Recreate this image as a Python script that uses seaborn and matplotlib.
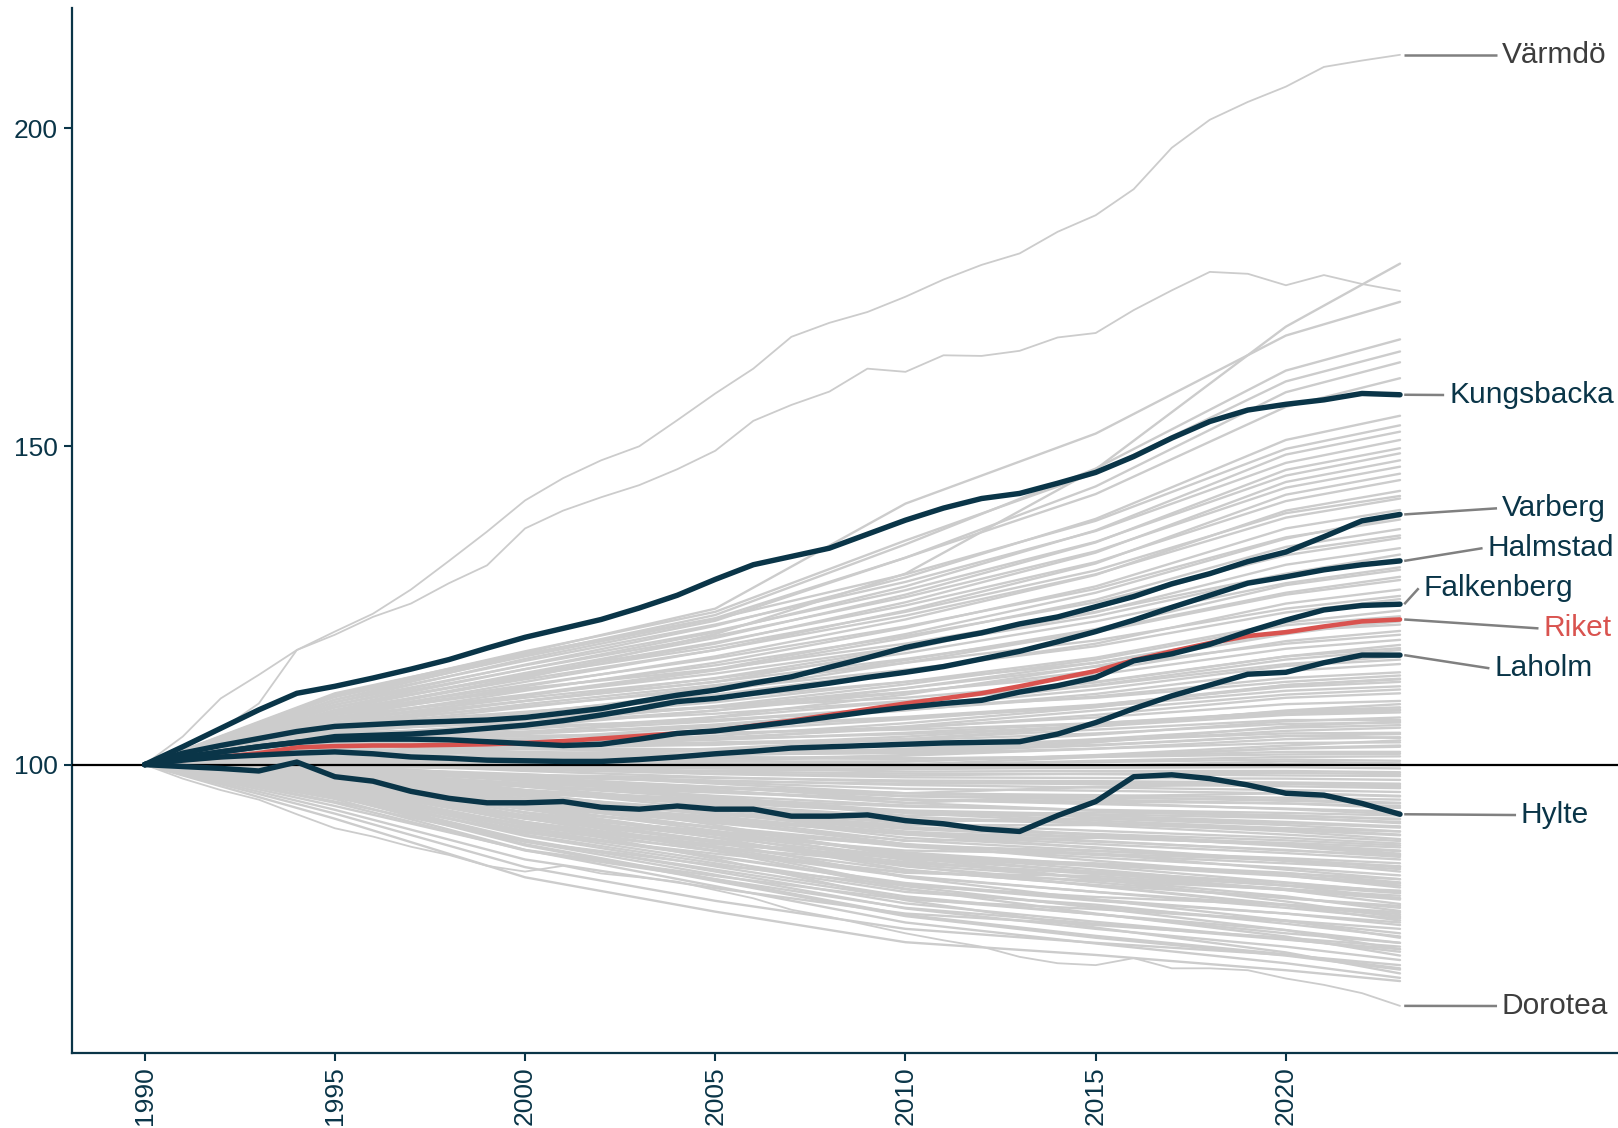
import matplotlib
matplotlib.use("Agg")
import matplotlib.pyplot as plt
import seaborn as sns
import pandas as pd

# ---------------- data ----------------
years = list(range(1990, 2024))

kungsbacka = [100, 102.8, 105.7, 108.6, 111.2, 112.3, 113.6, 115.0, 116.5, 118.3, 120.0, 121.4, 122.8,
              124.6, 126.6, 129.1, 131.4, 132.7, 134.0, 136.2, 138.4, 140.3, 141.8, 142.6, 144.2, 145.9,
              148.4, 151.3, 153.9, 155.7, 156.6, 157.3, 158.3, 158.1]
varberg = [100, 101.8, 103.0, 104.1, 105.2, 106.0, 106.3, 106.6, 106.8, 107.0, 107.4, 108.1, 108.8,
           109.9, 110.9, 111.7, 112.8, 113.8, 115.3, 116.8, 118.4, 119.6, 120.7, 122.1, 123.2, 124.8,
           126.4, 128.4, 130.0, 131.9, 133.4, 135.8, 138.3, 139.3]
halmstad = [100, 101.2, 102.0, 102.8, 103.5, 104.4, 104.6, 104.8, 105.2, 105.7, 106.2, 106.9, 107.8,
            108.8, 109.9, 110.4, 111.2, 112.0, 112.8, 113.7, 114.5, 115.4, 116.6, 117.8, 119.3, 120.9,
            122.7, 124.7, 126.6, 128.5, 129.5, 130.6, 131.4, 132.0]
falkenberg = [100, 101.0, 102.0, 102.8, 103.5, 103.9, 104.0, 104.0, 103.9, 103.6, 103.3, 103.0, 103.2,
              104.0, 104.9, 105.3, 106.0, 106.7, 107.5, 108.3, 109.0, 109.6, 110.1, 111.4, 112.4, 113.7,
              116.3, 117.4, 118.9, 120.9, 122.7, 124.3, 125.0, 125.2]
laholm = [100, 100.7, 101.2, 101.5, 101.8, 102.0, 101.7, 101.2, 101.0, 100.7, 100.6, 100.5, 100.5,
          100.8, 101.2, 101.7, 102.1, 102.6, 102.8, 103.0, 103.2, 103.4, 103.5, 103.6, 104.8, 106.6,
          108.8, 110.8, 112.5, 114.2, 114.5, 116.0, 117.2, 117.2]
hylte = [100, 99.7, 99.4, 99.0, 100.4, 98.1, 97.4, 95.8, 94.7, 94.0, 94.0, 94.2, 93.3, 93.0, 93.5,
         93.0, 93.0, 91.9, 91.9, 92.1, 91.2, 90.7, 89.9, 89.5, 92.0, 94.2, 98.1, 98.4, 97.8, 96.8,
         95.5, 95.2, 93.9, 92.2]
riket = [100, 100.7, 101.2, 101.8, 102.7, 102.9, 103.0, 103.0, 103.1, 103.2, 103.4, 103.7, 104.1,
         104.5, 104.9, 105.3, 106.1, 106.9, 107.8, 108.7, 109.6, 110.4, 111.2, 112.3, 113.5, 114.7,
         116.4, 117.8, 119.1, 120.2, 120.8, 121.7, 122.5, 122.8]
varmdo = [100, 104.4, 110.4, 114.1, 118.0, 120.9, 123.7, 127.5, 132.0, 136.6, 141.5, 145.0, 147.8,
          150.0, 154.1, 158.3, 162.2, 167.2, 169.4, 171.1, 173.5, 176.2, 178.5, 180.3, 183.7, 186.3,
          190.4, 196.9, 201.3, 204.1, 206.5, 209.6, 210.6, 211.5]
second_top = [100, 102.5, 105.5, 109.6, 118.0, 120.4, 123.2, 125.3, 128.5, 131.3, 137.1, 139.9, 142.0,
              143.9, 146.4, 149.3, 154.0, 156.5, 158.6, 162.2, 161.7, 164.3, 164.2, 165.0, 167.1, 167.8,
              171.4, 174.5, 177.4, 177.1, 175.3, 176.9, 175.5, 174.4]
dorotea = [100, 97.8, 96.0, 94.5, 92.2, 90.0, 88.7, 87.1, 85.8, 84.1, 83.2, 84.1, 82.9, 82.3, 81.6,
           80.3, 79.0, 77.2, 76.1, 74.8, 73.5, 72.4, 71.4, 69.8, 68.8, 68.5, 69.6, 68.0, 68.0, 67.7,
           66.4, 65.4, 64.1, 62.1]

# other municipalities, read at these years
gray_years = [1990, 1995, 2000, 2005, 2010, 2015, 2020, 2023]
gray_series = [
    [100, 91.5, 82.3, 76.9, 72.1, 70.1, 67.7, 66.0],
    [100, 94.6, 86.6, 80.9, 75.2, 71.9, 68.8, 66.5],
    [100, 97.4, 90.8, 85.2, 78.7, 74.4, 70.5, 67.2],
    [100, 95.0, 87.3, 81.7, 76.2, 72.8, 70.0, 67.8],
    [100, 92.3, 83.9, 78.6, 74.2, 72.0, 70.1, 68.5],
    [100, 95.2, 87.9, 82.7, 77.4, 74.2, 71.4, 69.3],
    [100, 97.6, 91.6, 86.5, 80.5, 76.6, 73.0, 70.0],
    [100, 95.3, 88.2, 83.2, 78.2, 75.3, 72.6, 70.6],
    [100, 92.9, 85.1, 80.6, 76.6, 74.8, 72.8, 71.4],
    [100, 95.5, 88.8, 84.0, 79.3, 76.5, 74.0, 72.0],
    [100, 97.8, 92.4, 87.8, 82.3, 78.8, 75.5, 72.8],
    [100, 95.8, 89.4, 84.9, 80.4, 77.7, 75.4, 73.5],
    [100, 93.5, 86.6, 82.5, 78.8, 77.3, 75.5, 74.2],
    [100, 96.0, 89.9, 85.6, 81.4, 78.8, 76.6, 74.8],
    [100, 98.0, 93.1, 89.0, 84.1, 80.9, 77.9, 75.5],
    [100, 96.2, 90.5, 86.4, 82.4, 80.0, 77.9, 76.2],
    [100, 94.2, 87.9, 84.2, 81.0, 79.2, 78.0, 76.8],
    [100, 96.4, 91.0, 87.2, 83.4, 81.1, 79.1, 77.5],
    [100, 98.2, 93.9, 90.1, 85.8, 83.0, 80.3, 78.1],
    [100, 96.6, 91.5, 87.9, 84.3, 82.2, 80.3, 78.8],
    [100, 94.8, 89.3, 86.0, 83.1, 81.8, 80.4, 79.4],
    [100, 96.8, 92.0, 88.6, 85.2, 83.2, 81.4, 80.0],
    [100, 98.5, 94.6, 91.3, 87.5, 84.9, 82.6, 80.7],
    [100, 97.0, 92.5, 89.3, 86.2, 84.3, 82.6, 81.3],
    [100, 95.5, 90.6, 87.8, 85.2, 84.2, 82.9, 82.0],
    [100, 97.2, 93.0, 90.1, 87.1, 85.4, 83.8, 82.6],
    [100, 98.6, 95.3, 92.4, 89.1, 86.9, 84.9, 83.2],
    [100, 97.4, 93.6, 90.8, 88.1, 86.5, 84.9, 83.9],
    [100, 96.1, 91.9, 89.5, 87.3, 86.4, 85.3, 84.5],
    [100, 97.6, 94.0, 91.5, 89.0, 87.5, 86.1, 85.1],
    [100, 98.9, 96.0, 93.6, 90.8, 88.9, 87.2, 85.8],
    [100, 97.8, 94.6, 92.2, 89.9, 88.6, 87.4, 86.4],
    [100, 96.8, 93.2, 91.2, 89.3, 88.6, 87.7, 87.0],
    [100, 98.0, 95.0, 92.9, 90.8, 89.6, 88.5, 87.6],
    [100, 99.1, 96.7, 94.7, 92.4, 90.9, 89.5, 88.3],
    [100, 98.2, 95.6, 93.7, 91.8, 90.7, 89.7, 88.9],
    [100, 97.4, 94.5, 92.9, 91.4, 90.8, 90.0, 89.5],
    [100, 98.4, 96.0, 94.4, 92.7, 91.7, 90.8, 90.1],
    [100, 99.3, 97.4, 95.9, 94.0, 92.8, 91.7, 90.8],
    [100, 98.6, 96.6, 95.1, 93.6, 92.8, 92.0, 91.4],
    [100, 98.0, 95.8, 94.6, 93.4, 92.9, 92.4, 92.0],
    [100, 98.8, 97.0, 95.8, 94.5, 93.8, 93.1, 92.6],
    [100, 99.5, 97.9, 96.4, 95.0, 94.5, 93.9, 93.2],
    [100, 99.0, 97.6, 96.5, 95.5, 94.9, 94.3, 93.9],
    [100, 98.6, 97.1, 96.3, 95.5, 95.2, 94.8, 94.5],
    [100, 99.6, 98.3, 97.2, 96.2, 95.9, 95.5, 95.1],
    [100, 99.3, 98.3, 97.5, 96.8, 96.4, 96.0, 95.7],
    [100, 100.3, 99.0, 98.0, 97.3, 96.9, 96.6, 96.3],
    [100, 99.2, 98.4, 97.9, 97.5, 97.4, 97.2, 97.0],
    [100, 100.8, 99.4, 98.5, 98.0, 97.9, 97.8, 97.6],
    [100, 99.7, 99.3, 98.9, 98.6, 98.5, 98.3, 98.2],
    [100, 101.0, 100.1, 99.4, 98.9, 99.0, 99.0, 98.8],
    [100, 100.6, 99.9, 99.6, 99.3, 99.5, 99.6, 99.4],
    [100, 101.4, 100.6, 100.0, 99.6, 99.7, 100.1, 99.9],
    [100, 98.1, 93.5, 89.6, 85.0, 82.0, 79.3, 77.0],
    [100, 95.0, 90.2, 87.5, 85.3, 84.2, 82.5, 81.0],
    [100, 97.7, 94.2, 91.8, 89.2, 87.9, 86.6, 85.5],
    [100, 99.2, 96.8, 94.9, 92.7, 91.2, 90.0, 89.0],
    [100, 98.4, 96.6, 95.6, 94.5, 94.2, 93.9, 93.5],
    [100, 97.7, 91.9, 86.9, 80.9, 77.5, 74.0, 71.0],
    [100, 95.1, 87.5, 82.0, 76.4, 73.1, 70.2, 68.0],
    [100, 99.0, 98.0, 97.4, 97.0, 97.1, 97.0, 96.8],
    [100, 100.2, 99.2, 98.6, 98.3, 98.6, 98.7, 98.5],
    [100, 99.2, 97.6, 96.3, 95.1, 94.8, 94.5, 94.0],
    [100, 97.8, 95.6, 94.2, 92.8, 92.2, 91.6, 91.0],
    [100, 97.5, 94.5, 92.4, 90.2, 89.1, 88.1, 87.3],
    [100, 97.0, 93.0, 90.2, 87.4, 85.8, 84.5, 83.6],
    [100, 96.5, 91.6, 88.1, 84.7, 82.8, 81.0, 79.8],
    [100, 95.6, 89.6, 85.5, 81.2, 78.6, 76.6, 75.2],
    [100, 96.5, 90.0, 86.5, 83.0, 82.5, 80.5, 79.0],
    [100, 99.0, 95.0, 90.5, 85.5, 82.0, 78.5, 76.0],
    [100, 97.0, 93.5, 91.5, 88.0, 88.5, 87.5, 86.0],
    [100, 98.5, 96.5, 94.0, 91.0, 91.5, 90.5, 89.5],
    [100, 95.5, 89.0, 84.5, 80.0, 78.0, 75.0, 73.0],
    [100, 98.0, 93.0, 88.5, 83.5, 81.0, 78.0, 76.5],
    [100, 99.5, 97.5, 95.0, 92.0, 92.5, 92.0, 91.5],
    [100, 97.0, 91.0, 87.0, 82.5, 80.0, 77.5, 75.8],
    [100, 96.0, 91.5, 89.0, 86.5, 86.0, 85.0, 84.0],
    [100, 98.8, 95.5, 92.0, 88.5, 87.0, 85.0, 84.0],
    [100, 99.0, 97.0, 96.0, 94.0, 95.0, 95.5, 95.0],
    [100, 97.5, 94.0, 91.0, 87.5, 86.0, 83.5, 82.0],
    [100, 94.0, 86.5, 82.0, 77.5, 75.0, 72.5, 71.0],
    [100, 98.0, 94.5, 92.5, 90.5, 90.5, 89.0, 88.0],
    [100, 99.5, 98.5, 97.0, 95.5, 96.5, 97.0, 96.5],
    [100, 96.5, 92.0, 89.5, 86.0, 84.0, 81.5, 80.0],
    [100, 98.5, 94.0, 90.0, 86.0, 83.5, 81.0, 79.0],
    [100, 97.0, 92.0, 88.0, 84.0, 81.5, 79.0, 77.8],
    [100, 99.5, 96.0, 93.0, 90.0, 89.0, 87.5, 86.5],
    [100, 98.0, 95.5, 94.0, 92.5, 92.0, 91.0, 90.3],
    [100, 95.0, 88.0, 83.5, 79.0, 76.5, 73.5, 72.0],
    [100, 97.5, 92.5, 89.0, 85.5, 84.5, 83.0, 81.5],
    [100, 100.0, 98.0, 96.5, 94.5, 94.0, 93.0, 92.2],
    [100, 96.0, 90.5, 87.0, 84.5, 83.0, 81.0, 80.2],
    [100, 98.5, 95.0, 92.5, 89.5, 88.0, 86.5, 85.8],
    [100, 102.0, 100.8, 100.2, 100.1, 100.4, 100.8, 100.6],
    [100, 101.5, 100.4, 99.8, 99.9, 100.6, 101.2, 101.3],
    [100, 102.6, 101.5, 101.0, 100.9, 101.3, 102.0, 102.0],
    [100, 101.1, 100.2, 100.0, 100.5, 101.4, 102.5, 102.8],
    [100, 103.0, 102.0, 101.6, 101.8, 102.5, 103.4, 103.5],
    [100, 101.8, 101.0, 100.9, 101.4, 102.5, 104.0, 104.3],
    [100, 103.2, 102.6, 102.4, 102.9, 103.8, 104.9, 105.0],
    [100, 102.3, 101.5, 101.5, 102.3, 103.6, 105.3, 105.8],
    [100, 103.6, 103.3, 103.2, 103.8, 104.9, 106.4, 106.6],
    [100, 102.0, 101.8, 102.1, 103.1, 104.7, 106.8, 107.4],
    [100, 104.0, 103.8, 104.0, 104.8, 106.0, 107.8, 108.2],
    [100, 102.8, 102.7, 103.1, 104.4, 106.2, 108.4, 109.0],
    [100, 104.3, 104.4, 104.9, 105.9, 107.4, 109.5, 110.0],
    [100, 103.1, 103.4, 104.2, 105.7, 107.8, 110.5, 111.2],
    [100, 104.7, 105.1, 105.9, 107.3, 109.1, 111.6, 112.3],
    [100, 103.5, 104.1, 105.3, 107.1, 109.3, 112.5, 113.4],
    [100, 105.0, 105.8, 107.0, 108.6, 110.7, 113.6, 114.5],
    [100, 103.8, 104.8, 106.3, 108.5, 111.1, 114.7, 115.8],
    [100, 105.4, 106.6, 108.0, 110.0, 112.4, 115.8, 117.0],
    [100, 104.2, 105.6, 107.4, 109.9, 112.9, 117.0, 118.3],
    [100, 105.8, 107.4, 109.1, 111.4, 114.1, 118.2, 119.6],
    [100, 104.6, 106.4, 108.5, 111.3, 114.7, 119.4, 121.0],
    [100, 106.2, 108.3, 110.4, 113.0, 116.0, 120.8, 122.5],
    [100, 105.0, 107.3, 109.8, 113.0, 116.8, 122.3, 124.2],
    [100, 106.5, 109.2, 111.8, 114.9, 118.6, 123.9, 126.0],
    [100, 105.4, 108.2, 111.0, 114.7, 119.0, 125.3, 127.5],
    [100, 107.0, 110.0, 113.0, 116.6, 120.8, 126.7, 129.0],
    [100, 105.8, 109.0, 112.2, 116.4, 121.3, 128.2, 130.6],
    [100, 107.3, 110.9, 114.3, 118.5, 123.3, 129.8, 132.3],
    [100, 106.2, 110.0, 113.6, 118.3, 123.9, 131.4, 134.0],
    [100, 107.8, 111.8, 115.6, 120.2, 125.5, 132.9, 135.6],
    [100, 106.6, 110.8, 114.8, 119.9, 125.9, 134.2, 137.0],
    [100, 108.1, 112.5, 116.7, 121.7, 127.6, 135.7, 138.5],
    [100, 107.0, 111.6, 116.0, 121.5, 128.0, 137.1, 140.0],
    [100, 108.5, 113.4, 118.0, 123.4, 129.9, 138.8, 141.8],
    [100, 107.4, 112.3, 117.0, 122.8, 129.8, 139.9, 143.0],
    [100, 109.0, 114.2, 119.2, 125.0, 131.8, 141.4, 144.7],
    [100, 107.8, 113.0, 118.0, 124.2, 131.6, 142.4, 145.7],
    [100, 109.4, 115.0, 120.2, 126.3, 133.5, 143.5, 146.8],
    [100, 108.2, 113.8, 119.0, 125.5, 133.3, 144.4, 147.8],
    [100, 109.8, 115.6, 121.0, 127.4, 135.0, 145.4, 148.9],
    [100, 108.6, 114.4, 119.9, 126.7, 134.9, 146.3, 149.7],
    [100, 110.2, 116.3, 122.0, 128.7, 136.7, 147.4, 151.0],
    [100, 109.0, 115.0, 120.8, 128.0, 136.8, 148.7, 152.3],
    [100, 110.6, 117.0, 122.9, 129.9, 138.3, 149.6, 153.3],
    [100, 109.4, 115.7, 121.8, 129.4, 138.6, 151.0, 154.8],
    [100, 110.8, 117.4, 123.0, 132.5, 142.5, 156.2, 160.7],
    [100, 109.8, 116.6, 122.6, 132.5, 143.7, 158.5, 163.2],
    [100, 111.0, 117.8, 124.0, 135.2, 145.8, 160.2, 164.9],
    [100, 110.2, 117.2, 123.5, 134.6, 146.5, 161.9, 166.8],
    [100, 111.2, 117.6, 124.5, 141.0, 152.0, 167.4, 172.7],
    [100, 108.0, 113.6, 120.5, 130.0, 146.4, 168.8, 178.7],
    [100, 100.8, 99.5, 99.0, 99.3, 99.8, 100.5, 100.2],
    [100, 102.5, 101.8, 101.2, 101.0, 101.2, 101.6, 101.7],
    [100, 100.5, 99.6, 99.4, 100.0, 101.2, 102.6, 103.0],
    [100, 102.9, 102.4, 102.1, 102.3, 103.1, 104.5, 104.8],
    [100, 101.6, 101.3, 101.5, 102.5, 104.0, 105.8, 106.2],
    [100, 103.7, 103.5, 103.9, 105.0, 106.5, 108.3, 108.7],
    [100, 104.5, 105.0, 106.0, 107.5, 109.4, 112.2, 113.0],
    [100, 104.0, 105.2, 106.8, 109.0, 111.8, 115.5, 116.5],
    [100, 105.2, 107.0, 109.0, 112.0, 115.4, 119.0, 120.4],
    [100, 104.4, 106.5, 109.2, 112.6, 116.5, 121.9, 123.3],
    [100, 101.5, 101.0, 101.5, 102.0, 103.0, 104.5, 104.2],
    [100, 103.0, 103.0, 103.5, 104.0, 105.5, 107.0, 107.0],
    [100, 102.0, 102.5, 104.0, 106.0, 108.5, 111.0, 111.8],
    [100, 104.5, 106.0, 107.0, 109.0, 110.5, 113.0, 114.0],
    [100, 103.0, 104.0, 106.0, 109.0, 112.5, 116.5, 118.0],
    [100, 105.5, 107.5, 109.0, 110.5, 113.0, 117.0, 118.8],
    [100, 104.0, 106.0, 108.5, 112.0, 116.0, 121.0, 122.0],
    [100, 106.0, 109.5, 112.5, 116.0, 119.5, 124.5, 126.5],
    [100, 103.5, 105.0, 107.5, 111.0, 115.5, 120.5, 122.8],
    [100, 107.0, 110.5, 113.5, 117.5, 122.5, 128.5, 131.0],
    [100, 105.0, 108.0, 111.5, 116.0, 121.0, 127.0, 129.5],
    [100, 108.0, 112.0, 115.0, 119.0, 124.0, 130.0, 133.0],
    [100, 102.5, 103.5, 104.5, 106.5, 109.0, 112.5, 113.5],
    [100, 101.0, 101.5, 102.5, 104.0, 106.0, 108.5, 109.5],
    [100, 104.0, 104.5, 105.0, 105.5, 106.5, 108.0, 108.5],
    [100, 102.0, 101.0, 100.5, 100.5, 101.5, 103.0, 103.8],
    [100, 100.5, 100.0, 100.5, 101.5, 103.5, 106.0, 106.8],
    [100, 106.5, 110.0, 113.0, 118.0, 124.5, 133.5, 136.0],
    [100, 107.5, 111.0, 115.0, 120.5, 127.0, 135.5, 139.0],
    [100, 109.0, 114.0, 118.5, 124.0, 130.5, 139.5, 142.2],
]

highlight_names = ["Kungsbacka", "Varberg", "Halmstad", "Falkenberg", "Laholm", "Hylte"]
highlight_values = [kungsbacka, varberg, halmstad, falkenberg, laholm, hylte]
label_names = ["Värmdö", "Kungsbacka", "Varberg", "Halmstad", "Falkenberg", "Riket", "Laholm", "Hylte", "Dorotea"]
label_end_values = [varmdo[-1], kungsbacka[-1], varberg[-1], halmstad[-1], falkenberg[-1], riket[-1],
                    laholm[-1], hylte[-1], dorotea[-1]]

# ---------------- layout / style ----------------
DARK = "#0a3548"
RED = "#d9534f"
GRAY = "#cccccc"
SEG = "#808080"
TXT_GRAY = "#3d3d3d"
label_colors = [TXT_GRAY, DARK, DARK, DARK, DARK, RED, DARK, DARK, TXT_GRAY]
# text anchor (x in years, y in index units)
label_text_x = [2025.68, 2024.29, 2025.68, 2025.30, 2023.62, 2026.77, 2025.48, 2026.18, 2025.68]
label_text_y = [211.5, 158.06, 140.26, 134.0, 127.7, 121.4, 115.13, 92.08, 62.08]
seg_start_x = 2023.11
seg_gap = 0.13

sns.set_theme(style="white")
plt.rcParams['font.family'] = ['Liberation Sans', 'DejaVu Sans']

fig = plt.figure(figsize=(16.18, 11.28), dpi=100)
ax = fig.add_axes([0.0445, 0.0669, 0.9555, 0.9257])

# gray background lines (bulk)
rows = []
for i, s in enumerate(gray_series):
    for y, v in zip(gray_years, s):
        rows.append({"unit": f"g{i}", "year": y, "value": v})
gdf = pd.DataFrame(rows)
sns.lineplot(data=gdf, x="year", y="value", units="unit", estimator=None, sort=False,
             color=GRAY, lw=1.7, ax=ax, legend=False)

# gray outliers read yearly
orows = []
for name, s in [("Värmdö", varmdo), ("second", second_top), ("Dorotea", dorotea)]:
    for y, v in zip(years, s):
        orows.append({"unit": name, "year": y, "value": v})
odf = pd.DataFrame(orows)
sns.lineplot(data=odf, x="year", y="value", units="unit", estimator=None, sort=False,
             color=GRAY, lw=1.3, ax=ax, legend=False)

ax.axhline(100, color="black", lw=1.6, zorder=3)

rdf = pd.DataFrame({"year": years, "value": riket})
sns.lineplot(data=rdf, x="year", y="value", color=RED, lw=3.3, ax=ax, legend=False, zorder=4)

hrows = []
for name, s in zip(highlight_names, highlight_values):
    for y, v in zip(years, s):
        hrows.append({"unit": name, "year": y, "value": v})
hdf = pd.DataFrame(hrows)
sns.lineplot(data=hdf, x="year", y="value", units="unit", estimator=None, sort=False,
             color=DARK, lw=3.9, ax=ax, legend=False, zorder=5)

# labels with connector segments
for name, ev, tx, ty, col in zip(label_names, label_end_values, label_text_x, label_text_y, label_colors):
    ax.plot([seg_start_x, tx - seg_gap], [ev, ty], color=SEG, lw=1.8, zorder=6, solid_capstyle="butt")
    ax.text(tx, ty, name, color=col, fontsize=21.5, ha="left", va="center", zorder=7)

ax.set_xlim(1988.09, 2028.73)
ax.set_ylim(54.77, 218.8)
ax.set_xticks([1990, 1995, 2000, 2005, 2010, 2015, 2020])
ax.set_xticklabels(["1990", "1995", "2000", "2005", "2010", "2015", "2020"], rotation=90, va="top")
ax.set_yticks([100, 150, 200])
ax.set_yticklabels(["100", "150", "200"])
ax.set_xlabel("")
ax.set_ylabel("")
for side in ["top", "right"]:
    ax.spines[side].set_visible(False)
for side in ["left", "bottom"]:
    ax.spines[side].set_color(DARK)
    ax.spines[side].set_linewidth(1.6)
ax.tick_params(axis="both", colors=DARK, length=6, width=1.5, labelsize=19, pad=4,
               bottom=True, left=True)
ax.grid(False)

fig.savefig("out.png", dpi=100)
